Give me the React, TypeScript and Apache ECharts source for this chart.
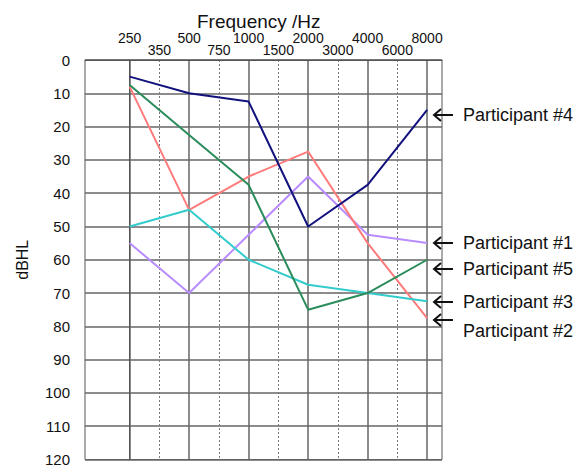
import React, { useEffect, useRef } from 'react';
import * as echarts from 'echarts';

// Frequency tick labels (half-octave steps, index 0..10)
const freqLabels = ['250', '350', '500', '750', '1000', '1500', '2000', '3000', '4000', '6000', '8000'];
const octaveIdx = [0, 2, 4, 6, 8, 10];
const halfIdx = [1, 3, 5, 7, 9];
// Tested frequencies (indices into freqLabels)
const testedIdx = [0, 2, 4, 6, 8, 10];

const participantNames = ['Participant #1', 'Participant #2', 'Participant #3', 'Participant #4', 'Participant #5'];
const p1 = [55, 70, 52.5, 35, 52.5, 55];
const p2 = [8, 45, 35, 27.5, 55, 77.5];
const p3 = [50, 45, 60, 67.5, 70, 72.5];
const p4 = [5, 10, 12.5, 50, 37.5, 15];
const p5 = [7.5, 22.5, 37.5, 75, 70, 60];
const seriesValues = [p1, p2, p3, p4, p5];
const seriesColors = ['#b98cff', '#ff7a7a', '#33cccc', '#12127e', '#2a8c5a'];

// Annotation layout (pixel positions of arrows / labels)
const annoOrder = [3, 0, 4, 2, 1];
const annoArrowY = [115, 243, 269, 302, 320];
const annoTextY = [115, 243, 269, 302, 331];

const FONT = '"Liberation Sans", Arial, sans-serif';

export default function App() {
  const ref = useRef<HTMLDivElement>(null);
  useEffect(() => {
    if (!ref.current) return;
    const chart = echarts.init(ref.current, undefined, { renderer: 'svg' });

    const graphics: any[] = [
      {
        type: 'text',
        left: 197,
        top: 12,
        style: { text: 'Frequency /Hz', font: `19px ${FONT}`, fill: '#111' },
      },
    ];
    annoOrder.forEach((si, k) => {
      const ay = annoArrowY[k];
      const x0 = 434;
      const x1 = 453;
      graphics.push({
        type: 'polyline',
        shape: { points: [[x0 + 7, ay - 6], [x0, ay], [x0 + 7, ay + 6]] },
        style: { stroke: '#111', lineWidth: 2, fill: 'none' },
        z: 10,
      });
      graphics.push({
        type: 'line',
        shape: { x1: x0, y1: ay, x2: x1, y2: ay },
        style: { stroke: '#111', lineWidth: 2 },
        z: 10,
      });
      graphics.push({
        type: 'text',
        x: 463,
        y: annoTextY[k],
        style: {
          text: participantNames[si],
          font: `18px ${FONT}`,
          fill: '#111',
          verticalAlign: 'middle',
          align: 'left',
        },
        z: 10,
      });
    });

    chart.setOption({
      animation: false,
      grid: {
        left: 85,
        top: 60,
        width: 357,
        height: 402,
        show: true,
        borderColor: '#555',
        borderWidth: 1,
        backgroundColor: '#fff',
      },
      xAxis: [
        {
          type: 'value',
          position: 'top',
          min: -1.5,
          max: 10.5,
          axisLine: { show: true, lineStyle: { color: '#555', width: 1 } },
          axisTick: { show: false, customValues: octaveIdx },
          axisLabel: {
            customValues: octaveIdx,
            formatter: (v: number) => freqLabels[Math.round(v)],
            margin: 15,
            fontSize: 14,
            fontFamily: FONT,
            color: '#111',
          },
          splitLine: { show: true, lineStyle: { color: '#666', width: 1.5 } },
        },
        {
          type: 'value',
          position: 'top',
          min: -1.5,
          max: 10.5,
          axisLine: { show: false },
          axisTick: { show: false, customValues: halfIdx },
          axisLabel: {
            customValues: halfIdx,
            formatter: (v: number) => freqLabels[Math.round(v)],
            margin: 3,
            fontSize: 14,
            fontFamily: FONT,
            color: '#111',
          },
          splitLine: { show: true, lineStyle: { color: '#777', width: 1, type: [2, 2] } },
        },
      ],
      yAxis: {
        type: 'value',
        inverse: true,
        min: 0,
        max: 120,
        interval: 10,
        name: 'dBHL',
        nameLocation: 'middle',
        nameGap: 55,
        nameRotate: 90,
        nameTextStyle: { fontSize: 16, fontFamily: FONT, color: '#111' },
        axisLine: { show: true, lineStyle: { color: '#555' } },
        axisTick: { show: false },
        axisLabel: { fontSize: 15, fontFamily: FONT, color: '#111', margin: 15 },
        splitLine: { show: true, lineStyle: { color: '#666', width: 1.5 } },
      },
      series: seriesValues.map((vals, i) => ({
        name: participantNames[i],
        type: 'line',
        xAxisIndex: 0,
        symbol: 'none',
        lineStyle: { color: seriesColors[i], width: 2 },
        itemStyle: { color: seriesColors[i] },
        data: testedIdx.map((x, j) => [x, vals[j]]),
        z: 5,
      })),
      graphic: graphics,
    });
    return () => chart.dispose();
  }, []);
  return (
    <div
      ref={ref}
      style={{ position: 'fixed', left: 0, top: 0, width: 580, height: 467, background: '#fff' }}
    />
  );
}
